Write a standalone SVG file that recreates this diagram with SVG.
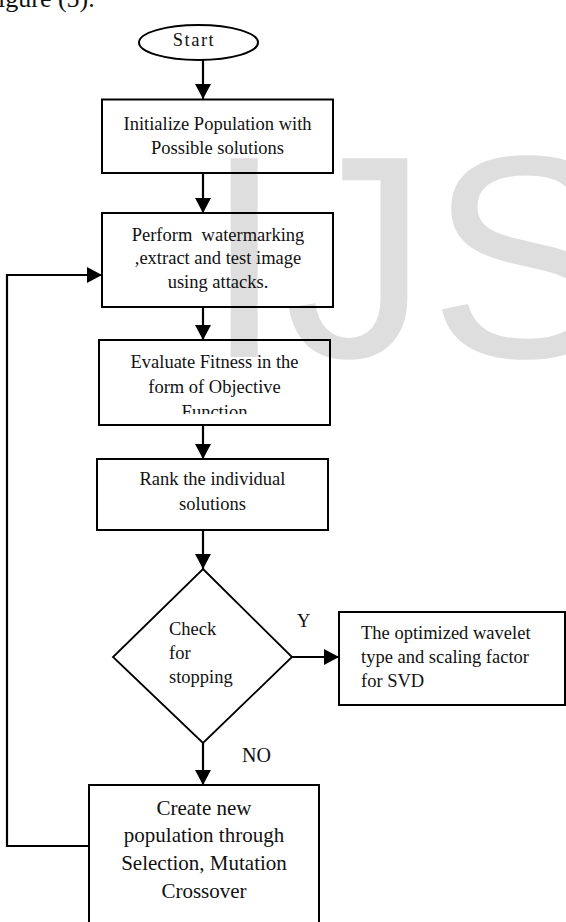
<svg xmlns="http://www.w3.org/2000/svg" width="566" height="922" viewBox="0 0 566 922">
  <style>
    .box { fill: none; stroke: #000; stroke-width: 2; }
    .conn { fill: none; stroke: #000; stroke-width: 2.2; }
    .t { font-family: "Liberation Serif", "Times New Roman", serif; font-size: 18.5px; fill: #111; }
    .c { text-anchor: middle; }
    .big { font-size: 21px; }
    .wm { font-family: "Liberation Sans", Arial, sans-serif; font-size: 289px; fill: #dedede; }
  </style>
  <defs>
    <marker id="arrow" markerUnits="userSpaceOnUse" markerWidth="16" markerHeight="16" refX="15" refY="8" orient="auto">
      <path d="M0,0 L15,8 L0,16 z" fill="#000"/>
    </marker>
    <clipPath id="clip3">
      <rect x="99" y="340" width="231" height="74"/>
    </clipPath>
  </defs>
  <rect width="566" height="922" fill="#fff"/>
  <text class="wm" x="204" y="357">IJS</text>
  <text x="-2" y="7" font-family="'Liberation Serif', 'Times New Roman', serif" font-size="26" fill="#111">igure (5).</text>

  <g id="connectors">
    <line class="conn" x1="203" y1="60" x2="203" y2="99" marker-end="url(#arrow)"/>
    <line class="conn" x1="203" y1="173" x2="203" y2="213" marker-end="url(#arrow)"/>
    <line class="conn" x1="203" y1="307" x2="203" y2="340" marker-end="url(#arrow)"/>
    <line class="conn" x1="203" y1="425" x2="203" y2="459" marker-end="url(#arrow)"/>
    <line class="conn" x1="203" y1="530" x2="203" y2="569" marker-end="url(#arrow)"/>
    <line class="conn" x1="292" y1="657" x2="339" y2="657" marker-end="url(#arrow)"/>
    <line class="conn" x1="203" y1="743" x2="203" y2="785" marker-end="url(#arrow)"/>
    <polyline class="conn" points="89,846 7,846 7,275 102,275" marker-end="url(#arrow)"/>
    <text class="t" x="297" y="627" font-size="19">Y</text>
    <text class="t" x="242" y="762" style="font-size:20px">NO</text>
  </g>

  <g id="start">
    <ellipse class="box" cx="198.5" cy="42.5" rx="59.5" ry="17.5"/>
    <text class="t c" x="194" y="46" letter-spacing="1.5">Start</text>
  </g>

  <g id="init">
    <rect class="box" x="102" y="99.5" width="231" height="73.5"/>
    <text class="t c" x="217.5" y="130">Initialize Population with</text>
    <text class="t c" x="217.5" y="154">Possible solutions</text>
  </g>

  <g id="perform">
    <rect class="box" x="102" y="213" width="231" height="94"/>
    <text class="t c" x="218" y="241" xml:space="preserve">Perform  watermarking</text>
    <text class="t c" x="218" y="264">,extract and test image</text>
    <text class="t c" x="218" y="288">using attacks.</text>
  </g>

  <g id="evaluate">
    <rect class="box" x="99" y="340" width="231" height="85"/>
    <text class="t c" x="214.5" y="368">Evaluate Fitness in the</text>
    <text class="t c" x="214.5" y="393">form of Objective</text>
    <text class="t c" x="214.5" y="418" clip-path="url(#clip3)">Function</text>
  </g>

  <g id="rank">
    <rect class="box" x="97" y="459" width="231" height="71"/>
    <text class="t c" x="212.5" y="485">Rank the individual</text>
    <text class="t c" x="212.5" y="510">solutions</text>
  </g>

  <g id="check">
    <polygon class="box" style="stroke-width:1.8" points="203,569 292,657 203,743 113,657"/>
    <text class="t" x="169" y="635">Check</text>
    <text class="t" x="169" y="659">for</text>
    <text class="t" x="169" y="683">stopping</text>
  </g>

  <g id="result">
    <rect class="box" x="339" y="612" width="226" height="93"/>
    <text class="t" x="361" y="639">The optimized wavelet</text>
    <text class="t" x="361" y="663">type and scaling factor</text>
    <text class="t" x="361" y="687">for SVD</text>
  </g>

  <g id="create">
    <rect class="box" x="89" y="785" width="230" height="160"/>
    <text class="t c big" x="204" y="815">Create new</text>
    <text class="t c big" x="204" y="842">population through</text>
    <text class="t c big" x="204" y="870">Selection, Mutation</text>
    <text class="t c big" x="204" y="898">Crossover</text>
  </g>
</svg>
